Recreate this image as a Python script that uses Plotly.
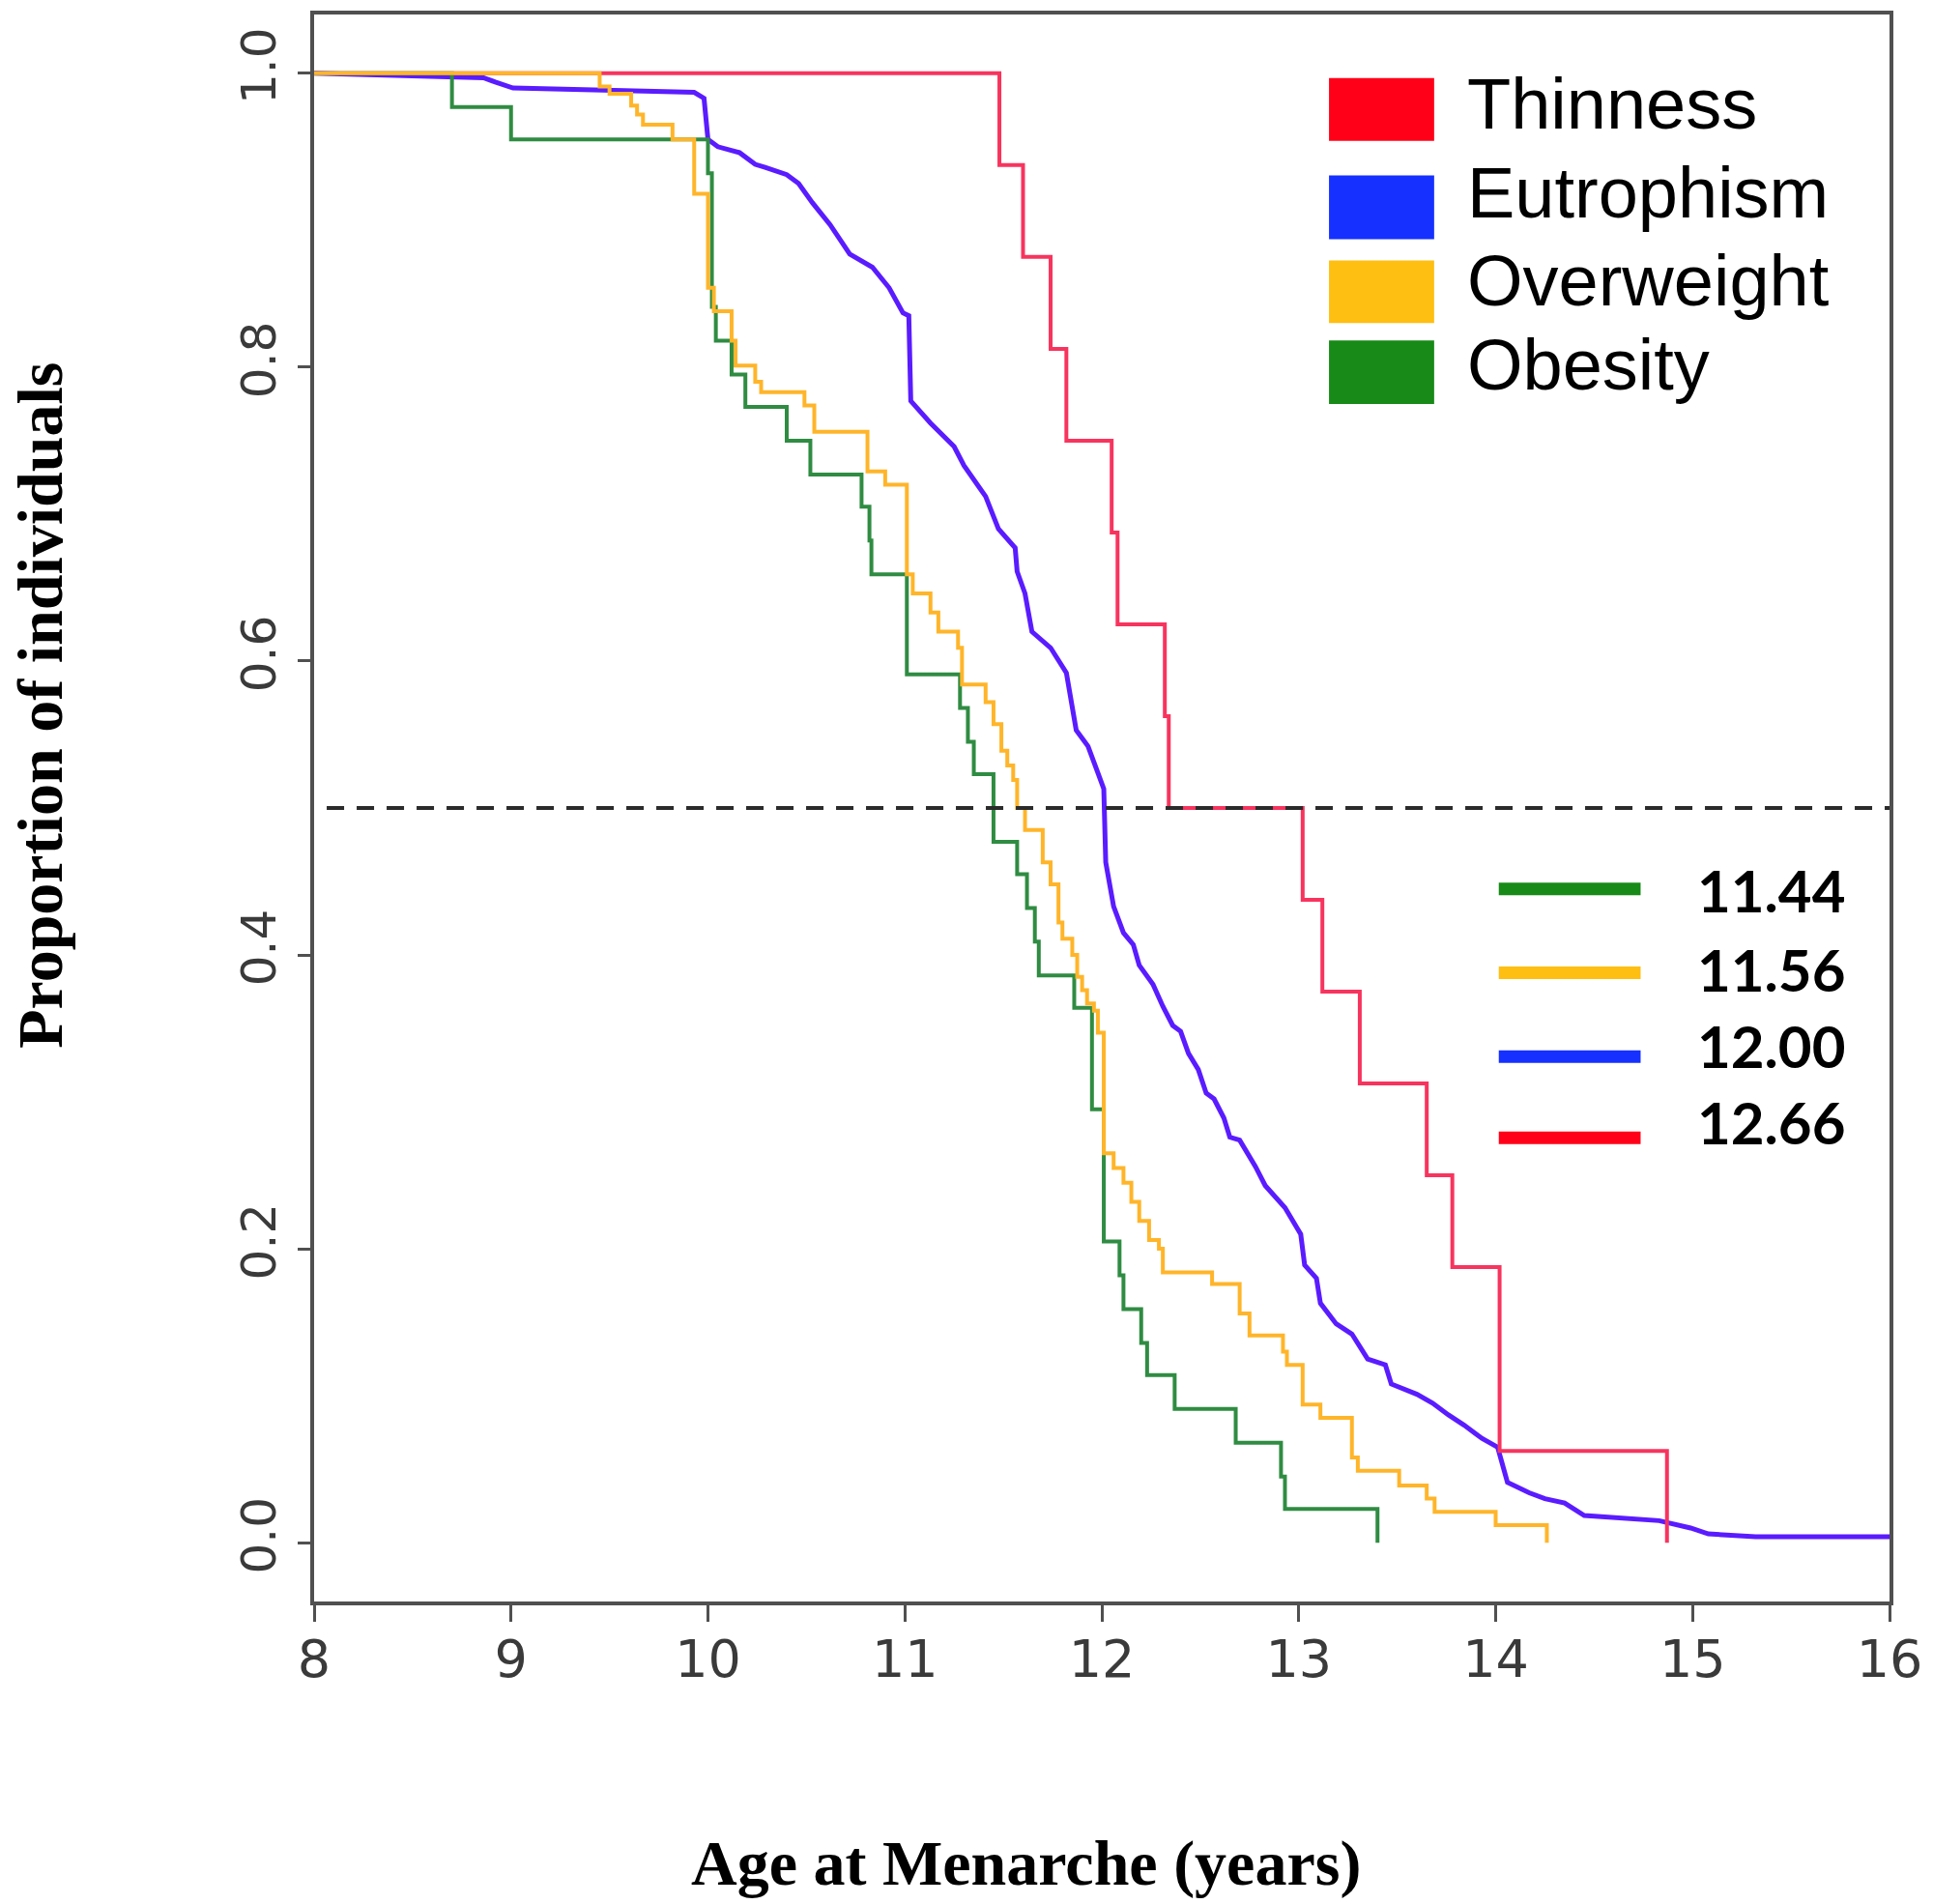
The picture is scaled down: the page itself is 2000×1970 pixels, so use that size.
import plotly.graph_objects as go

# ---------------- data ----------------
groups = ["Thinness", "Eutrophism", "Overweight", "Obesity"]

thin_t = [11.48, 11.60, 11.74, 11.82, 12.05, 12.08, 12.32, 12.34, 13.02, 13.12,
          13.31, 13.65, 13.78, 14.02, 14.87]
thin_s = [0.9375, 0.875, 0.8125, 0.75, 0.6875, 0.625, 0.5625, 0.5, 0.4375, 0.375,
          0.3125, 0.25, 0.1875, 0.0625, 0.0]

eutro_t = [8.86, 8.92, 9.01, 9.93, 9.98, 10.00, 10.05, 10.16, 10.24, 10.29, 10.40,
           10.46, 10.53, 10.62, 10.72, 10.835, 10.92, 10.99, 11.02, 11.03, 11.13,
           11.25, 11.30, 11.41, 11.475, 11.56, 11.57, 11.61, 11.645, 11.74, 11.82,
           11.87, 11.93, 11.98, 12.01, 12.02, 12.04, 12.06, 12.11, 12.16, 12.19,
           12.26, 12.31, 12.36, 12.40, 12.44, 12.49, 12.53, 12.57, 12.62, 12.65,
           12.70, 12.78, 12.83, 12.93, 13.01, 13.03, 13.09, 13.11, 13.19, 13.27,
           13.35, 13.44, 13.47, 13.60, 13.68, 13.76, 13.84, 13.93, 14.01, 14.06,
           14.17, 14.25, 14.35, 14.45, 14.83, 14.99, 15.08, 15.32]
eutro_s = [0.997, 0.994, 0.990, 0.987, 0.983, 0.955, 0.950, 0.946, 0.938, 0.936, 0.931,
           0.925, 0.912, 0.897, 0.877, 0.868, 0.854, 0.837, 0.835, 0.777, 0.762,
           0.746, 0.733, 0.712, 0.690, 0.677, 0.661, 0.646, 0.620, 0.609, 0.592,
           0.553, 0.542, 0.524, 0.513, 0.463, 0.448, 0.433, 0.415, 0.407, 0.393,
           0.380, 0.365, 0.352, 0.348, 0.333, 0.322, 0.306, 0.302, 0.289, 0.276,
           0.274, 0.256, 0.243, 0.228, 0.210, 0.189, 0.180, 0.163, 0.149, 0.142,
           0.125, 0.121, 0.108, 0.101, 0.095, 0.087, 0.080, 0.071, 0.065, 0.041,
           0.034, 0.030, 0.027, 0.0185, 0.015, 0.010, 0.006, 0.004]

over_t = [9.45, 9.50, 9.61, 9.64, 9.67, 9.82, 9.93, 10.00, 10.03, 10.12, 10.14,
          10.24, 10.27, 10.49, 10.54, 10.81, 10.90, 11.01, 11.04, 11.13, 11.17,
          11.27, 11.29, 11.41, 11.45, 11.49, 11.52, 11.55, 11.57, 11.61, 11.70,
          11.74, 11.78, 11.80, 11.85, 11.875, 11.90, 11.925, 11.96, 11.98, 12.01,
          12.06, 12.11, 12.15, 12.19, 12.24, 12.29, 12.31, 12.56, 12.70, 12.75,
          12.92, 12.94, 13.02, 13.11, 13.27, 13.30, 13.51, 13.65, 13.69, 14.00, 14.26]
over_s = [0.991, 0.986, 0.978, 0.972, 0.965, 0.955, 0.918, 0.854, 0.838, 0.818, 0.801,
          0.790, 0.783, 0.774, 0.756, 0.729, 0.720, 0.659, 0.646, 0.633, 0.620,
          0.609, 0.584, 0.572, 0.557, 0.539, 0.529, 0.519, 0.500, 0.485, 0.463,
          0.448, 0.422, 0.411, 0.400, 0.385, 0.376, 0.367, 0.362, 0.347, 0.265,
          0.255, 0.245, 0.232, 0.219, 0.206, 0.200, 0.184, 0.176, 0.156, 0.141,
          0.130, 0.121, 0.094, 0.085, 0.058, 0.049, 0.039, 0.030, 0.021, 0.012, 0.0]

obes_t = [8.70, 9.00, 10.00, 10.02, 10.04, 10.12, 10.19, 10.40, 10.52, 10.78, 10.82,
          10.83, 11.01, 11.28, 11.32, 11.35, 11.45, 11.57, 11.62, 11.66, 11.68,
          11.86, 11.95, 12.01, 12.09, 12.11, 12.20, 12.23, 12.37, 12.68, 12.91,
          12.93, 13.40]
obes_s = [0.977, 0.955, 0.932, 0.841, 0.818, 0.795, 0.773, 0.750, 0.727, 0.705, 0.682,
          0.659, 0.591, 0.568, 0.545, 0.523, 0.477, 0.455, 0.432, 0.409, 0.386,
          0.364, 0.295, 0.205, 0.182, 0.159, 0.136, 0.114, 0.091, 0.068, 0.045,
          0.023, 0.0]

median_groups = ["Obesity", "Overweight", "Eutrophism", "Thinness"]
median_labels = ["11.44", "11.56", "12.00", "12.66"]
half_level = 0.5

x_ticks = [8, 9, 10, 11, 12, 13, 14, 15, 16]
y_ticks = [0.0, 0.2, 0.4, 0.6, 0.8, 1.0]
y_tick_labels = ["0.0", "0.2", "0.4", "0.6", "0.8", "1.0"]
x_title = "Age at Menarche (years)"
y_title = "Proportion of individuals"

# ---------------- styles ----------------
line_colors = {"Thinness": "#f7345e", "Eutrophism": "#5a1cff",
               "Overweight": "#ffb52a", "Obesity": "#2f8c42"}
key_colors = {"Thinness": "#ff0018", "Eutrophism": "#1530ff",
              "Overweight": "#ffbe12", "Obesity": "#178a17"}
curves = {"Thinness": (thin_t, thin_s), "Eutrophism": (eutro_t, eutro_s),
          "Overweight": (over_t, over_s), "Obesity": (obes_t, obes_s)}
line_shapes = {"Thinness": "hv", "Eutrophism": "linear",
               "Overweight": "hv", "Obesity": "hv"}
draw_order = ["Eutrophism", "Thinness", "Obesity", "Overweight"]

W, H = 2000, 1970
L, R, T, B = 325, 42, 11, 313
X_MIN, X_MAX = x_ticks[0], x_ticks[-1]


def px(x):
    return (x - L) / (W - L - R)


def py(y):
    return (H - B - y) / (H - T - B)


fig = go.Figure()
for g in draw_order:
    t, s = curves[g]
    xs = [X_MIN] + list(t)
    ys = [1.0] + list(s)
    if s[-1] > 0:
        xs.append(X_MAX)
        ys.append(s[-1])
    fig.add_trace(go.Scatter(
        x=xs, y=ys, mode="lines", name=g, line_shape=line_shapes[g],
        line=dict(color=line_colors[g], width=5 if g == "Eutrophism" else 4),
        showlegend=False, hoverinfo="skip"))

shapes = []
# dashed median reference line
shapes.append(dict(type="line", xref="x domain", yref="y", x0=0.008, x1=1.0,
                   y0=half_level, y1=half_level,
                   line=dict(color="#2b2b2b", width=4, dash="18px,13px")))

annotations = []
# group colour key (top right)
key_boxes = [(77, 142), (178, 244), (266, 331), (349, 415)]
key_text_y = [104, 196, 287, 374]
for g, (y0, y1), ty in zip(groups, key_boxes, key_text_y):
    shapes.append(dict(type="rect", xref="paper", yref="paper",
                       x0=px(1377), x1=px(1486), y0=py(y1), y1=py(y0),
                       fillcolor=key_colors[g], line=dict(width=0)))
    annotations.append(dict(xref="paper", yref="paper", x=px(1518), y=py(ty),
                            xanchor="left", yanchor="middle", showarrow=False,
                            text=g, font=dict(family="Liberation Sans", size=74,
                                              color="#000000")))

# median key (middle right)
med_line_y = [918, 1005, 1092, 1176]
med_text_y = [919, 1001, 1081, 1160]
for g, lab, ly, ty in zip(median_groups, median_labels, med_line_y, med_text_y):
    shapes.append(dict(type="line", xref="paper", yref="paper",
                       x0=px(1553), x1=px(1700), y0=py(ly), y1=py(ly),
                       line=dict(color=key_colors[g], width=13)))
    annotations.append(dict(xref="paper", yref="paper", x=px(1757), y=py(ty),
                            xanchor="left", yanchor="middle", showarrow=False,
                            text="<b>" + lab + "</b>",
                            font=dict(family="Lato", size=60, color="#000000")))

# axis titles
annotations.append(dict(xref="paper", yref="paper", x=px(41), y=py(728),
                        xanchor="center", yanchor="middle", showarrow=False,
                        textangle=-90, text="<b>" + y_title + "</b>",
                        font=dict(family="Liberation Serif", size=66, color="#000000")))
annotations.append(dict(xref="paper", yref="paper", x=px(1063), y=py(1968),
                        xanchor="center", yanchor="bottom", showarrow=False,
                        text="<b>" + x_title + "</b>",
                        font=dict(family="Liberation Serif", size=66, color="#000000")))

fig.update_layout(
    width=W, height=H,
    margin=dict(l=L, r=R, t=T, b=B, pad=0),
    paper_bgcolor="white", plot_bgcolor="white",
    shapes=shapes, annotations=annotations, showlegend=False,
    xaxis=dict(range=[X_MIN, X_MAX], tickvals=x_ticks,
               ticktext=[str(v) for v in x_ticks],
               showgrid=False, zeroline=False,
               showline=True, linecolor="#505050", linewidth=4, mirror=True,
               ticks="outside", ticklen=17, tickwidth=3, tickcolor="#505050",
               ticklabelstandoff=-8,
               tickfont=dict(family="DejaVu Sans", size=54, color="#3a3a3a")),
    yaxis=dict(range=[-0.04, 1.04], tickvals=y_ticks, ticktext=y_tick_labels,
               showgrid=False, zeroline=False,
               showline=True, linecolor="#505050", linewidth=4, mirror=True,
               ticks="outside", ticklen=13, tickwidth=3, tickcolor="#505050",
               tickangle=-90, ticklabelstandoff=3,
               tickfont=dict(family="DejaVu Sans", size=50, color="#3a3a3a")),
)

fig.write_html("out.html", config={"displayModeBar": False},
               post_script="document.body.style.margin='0';")
